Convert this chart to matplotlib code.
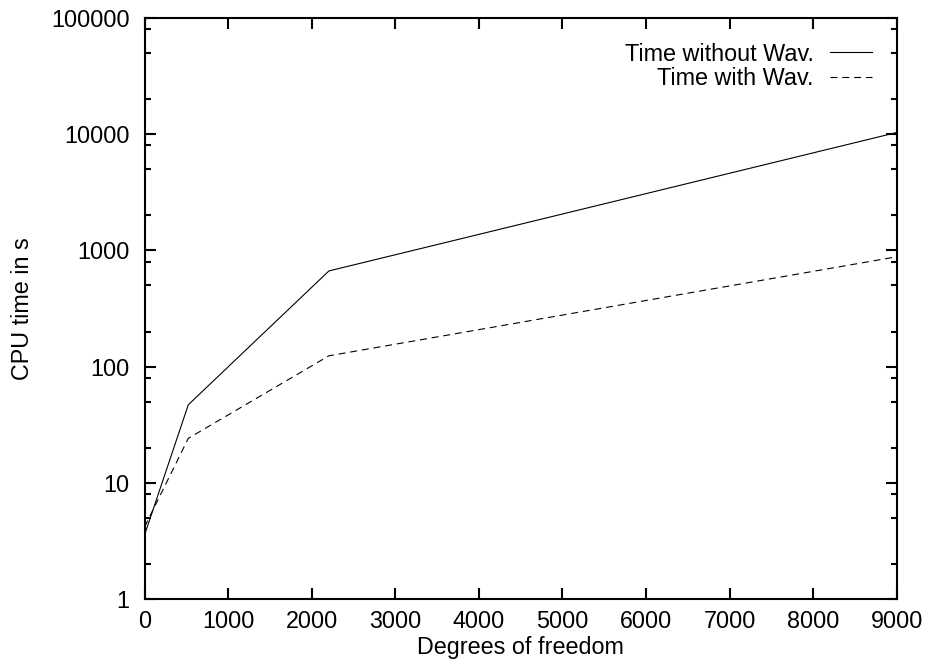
import matplotlib
matplotlib.use("Agg")
import matplotlib.pyplot as plt
from matplotlib.ticker import FixedLocator, NullFormatter
import numpy as np

# values
dof = [0, 522, 2205, 9000]
time_without_wav = [3.6, 47, 665, 10300]
time_with_wav = [4.2, 24.2, 124, 880]

x_ticks = [0, 1000, 2000, 3000, 4000, 5000, 6000, 7000, 8000, 9000]
y_ticks = [1, 10, 100, 1000, 10000, 100000]
y_tick_labels = ["1", "10", "100", "1000", "10000", "100000"]

plt.rcParams["font.family"] = ["Liberation Sans", "DejaVu Sans"]
plt.rcParams["font.size"] = 16.8
plt.rcParams["lines.scale_dashes"] = False

fig = plt.figure(figsize=(9.25, 6.62), dpi=100)
ax = fig.add_axes([0.1564, 0.0947, 0.9694 - 0.1564, 0.9733 - 0.0947])

ax.plot(dof, time_without_wav, color="black", lw=0.8, label="Time without Wav.")
ax.plot(dof, time_with_wav, color="black", lw=0.8, linestyle=(0, (5, 3.5)),
        label="Time with Wav.")

ax.set_yscale("log")
ax.set_xlim(0, 9000)
ax.set_ylim(1, 100000)

ax.set_xticks(x_ticks)
ax.set_xticklabels([str(t) for t in x_ticks])
ax.set_yticks(y_ticks)
ax.set_yticklabels(y_tick_labels)

# gnuplot style minor ticks at 2, 5, 8 of each decade
minor = [m * 10.0 ** d for d in range(0, 5) for m in (2, 5, 8)]
ax.yaxis.set_minor_locator(FixedLocator(minor))
ax.yaxis.set_minor_formatter(NullFormatter())

ax.tick_params(which="both", direction="in", top=True, right=True, width=1.5)
ax.tick_params(which="major", length=8)
ax.tick_params(which="minor", length=4.5)
ax.tick_params(axis="y", which="major", pad=11)
ax.tick_params(axis="x", which="major", pad=8)

for side in ax.spines.values():
    side.set_linewidth(1.5)

ax.set_xlabel("Degrees of freedom", labelpad=2)
ax.set_ylabel("CPU time in s", labelpad=12)

ax.legend(loc="upper right", frameon=False, markerfirst=False,
          handlelength=1.8, handletextpad=0.7, borderaxespad=0.67,
          borderpad=0.4, labelspacing=0.05)

fig.savefig("out.png", dpi=100)
